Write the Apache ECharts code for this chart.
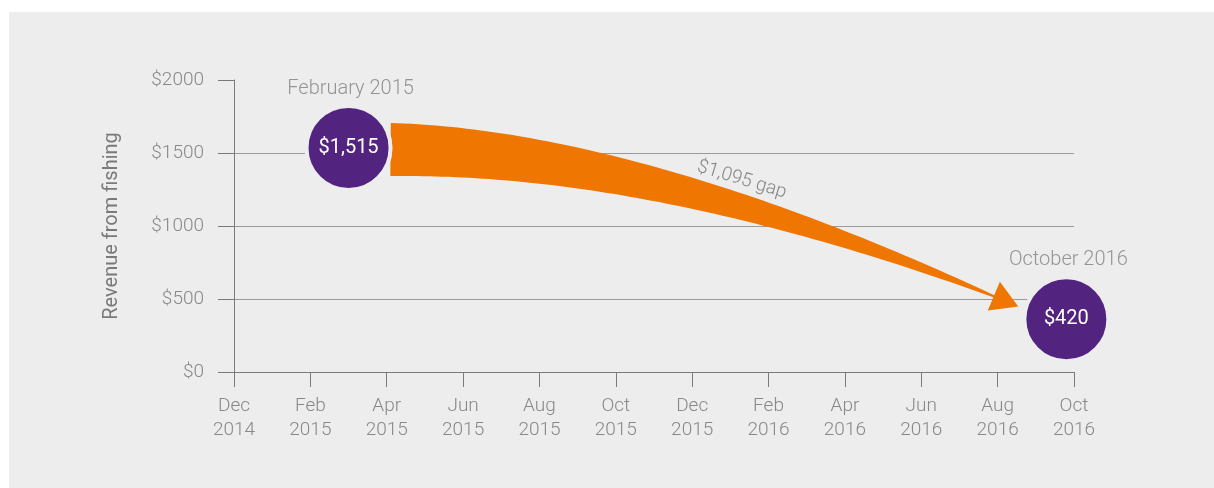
<!DOCTYPE html>
<html>
<head>
<meta charset="utf-8">
<style>
  html, body { margin: 0; padding: 0; background: #ffffff; }
  #chart { position: absolute; left: 9px; top: 12px; width: 1205px; height: 476px; background: #ededed; }
</style>
<script src="https://cdn.jsdelivr.net/npm/echarts@6/dist/echarts.min.js"></script>
</head>
<body>
<div id="chart"></div>
<script>
// x axis is counted in months from Dec 2014
const xLabels = ['Dec\n2014', 'Feb\n2015', 'Apr\n2015', 'Jun\n2015', 'Aug\n2015', 'Oct\n2015',
                 'Dec\n2015', 'Feb\n2016', 'Apr\n2016', 'Jun\n2016', 'Aug\n2016', 'Oct\n2016'];
const yTicks = [0, 500, 1000, 1500, 2000];

const pointMonths = [3.0, 21.8];
const pointValues = [1535, 361];
const pointLabels = ['$1,515', '$420'];
const pointDates = ['February 2015', 'October 2016'];

// arrow: start, bend, tip  [month, value]
const arrowPath = [[4.1, 1524], [10.97, 1507], [20.54, 449]];
const gapLabel = '$1,095 gap';
const gapLabelAt = [13.3, 1316];

const FONT = 'Roboto, "Open Sans", sans-serif';
const PURPLE = '#52247f';
const ORANGE = '#ee7601';
const BG = '#ededed';

function renderArrow(params, api) {
    const p0 = api.coord(arrowPath[0]);
    const c = api.coord(arrowPath[1]);
    const p2 = api.coord(arrowPath[2]);
    const top = [], bot = [];
    const N = 80;
    for (let i = 0; i <= N; i++) {
        const t = i / N, u = 1 - t;
        const x = u * u * p0[0] + 2 * u * t * c[0] + t * t * p2[0];
        const y = u * u * p0[1] + 2 * u * t * c[1] + t * t * p2[1];
        let dx = 2 * u * (c[0] - p0[0]) + 2 * t * (p2[0] - c[0]);
        let dy = 2 * u * (c[1] - p0[1]) + 2 * t * (p2[1] - c[1]);
        const len = Math.hypot(dx, dy);
        dx /= len; dy /= len;
        const h = 26.5 * (1 - Math.pow(t, 1.3));
        top.push([x + dy * h, y - dx * h]);
        bot.push([x - dy * h, y + dx * h]);
    }
    const shaft = top.concat(bot.reverse());

    let ux = p2[0] - c[0], uy = p2[1] - c[1];
    const ul = Math.hypot(ux, uy);
    ux /= ul; uy /= ul;
    const bx = p2[0] - ux * 26.5, by = p2[1] - uy * 26.5;
    const head = [
        [p2[0], p2[1]],
        [bx + uy * 15.5, by - ux * 15.5],
        [bx - uy * 15.5, by + ux * 15.5]
    ];
    const lp = api.coord(gapLabelAt);

    return {
        type: 'group',
        children: [
            { type: 'polygon', shape: { points: shaft }, style: { fill: ORANGE } },
            { type: 'polygon', shape: { points: head }, style: { fill: ORANGE } },
            {
                type: 'text',
                x: lp[0], y: lp[1],
                rotation: -17 * Math.PI / 180,
                style: {
                    text: gapLabel, fill: '#858585',
                    font: '300 19px ' + FONT,
                    align: 'center', verticalAlign: 'middle'
                }
            }
        ]
    };
}

const points = pointMonths.map((m, i) => [m, pointValues[i]]);

let option = {
    backgroundColor: 'transparent',
    animation: false,
    grid: {
        left: 225, right: 140, top: 68, bottom: 116,
        outerBoundsMode: 'none'
    },
    xAxis: {
        type: 'value',
        min: 0,
        max: (xLabels.length - 1) * 2,
        interval: 2,
        axisLine: { show: true, lineStyle: { color: '#7a7a7a', width: 1 } },
        axisTick: { show: true, length: 15, lineStyle: { color: '#7a7a7a' } },
        splitLine: { show: false },
        axisLabel: {
            margin: 22,
            color: '#888888',
            fontFamily: FONT,
            fontWeight: 300,
            fontSize: 19,
            lineHeight: 24,
            formatter: v => xLabels[Math.round(v / 2)]
        }
    },
    yAxis: {
        type: 'value',
        min: yTicks[0],
        max: yTicks[yTicks.length - 1],
        interval: yTicks[1] - yTicks[0],
        name: 'Revenue from fishing',
        nameLocation: 'middle',
        nameGap: 112,
        nameTextStyle: { color: '#7a7a7a', fontFamily: FONT, fontSize: 20 },
        axisLine: { show: true, lineStyle: { color: '#7a7a7a', width: 1 } },
        axisTick: { show: true, length: 16, lineStyle: { color: '#7a7a7a' } },
        splitLine: { show: true, showMaxLine: false, showMinLine: false,
                     lineStyle: { color: '#9a9a9a', width: 1 } },
        axisLabel: {
            margin: 30,
            color: '#888888',
            fontFamily: FONT,
            fontWeight: 300,
            fontSize: 19,
            formatter: v => '$' + v
        }
    },
    series: [
        {
            type: 'custom',
            z: 2,
            silent: true,
            clip: false,
            data: [[0, 0]],
            renderItem: renderArrow
        },
        {
            type: 'scatter',
            z: 3,
            clip: false,
            symbolSize: 84,
            itemStyle: { color: PURPLE, borderColor: BG, borderWidth: 4, opacity: 1 },
            label: {
                show: true,
                position: 'inside',
                color: '#ffffff',
                fontFamily: FONT,
                fontSize: 20,
                formatter: p => pointLabels[p.dataIndex]
            },
            data: points
        },
        {
            type: 'scatter',
            z: 4,
            clip: false,
            symbolSize: 1,
            itemStyle: { color: 'rgba(0,0,0,0)' },
            label: {
                show: true,
                position: 'inside',
                offset: [2, -59],
                color: '#7d7d7d',
                fontFamily: FONT,
                fontWeight: 300,
                fontSize: 20,
                formatter: p => pointDates[p.dataIndex]
            },
            data: points
        }
    ]
};

let myChart = echarts.init(document.getElementById('chart'));
myChart.setOption(option);
</script>
</body>
</html>
